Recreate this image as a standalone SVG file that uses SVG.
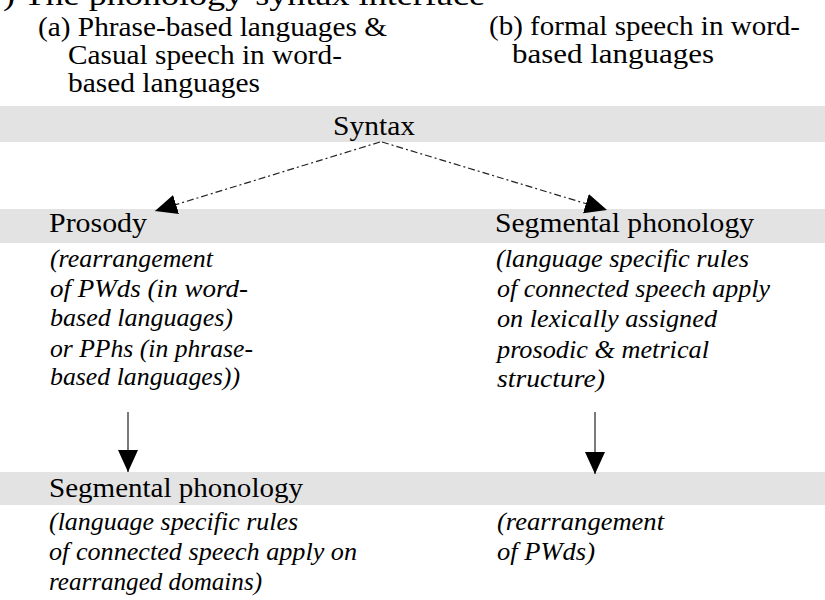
<svg xmlns="http://www.w3.org/2000/svg" width="825" height="600" viewBox="0 0 825 600">
<style>
  text { font-family: "Liberation Serif", "DejaVu Serif", serif; fill: #000; }
  .title { font-size: 29px; }
  .hdr { font-size: 27px; }
  .node { font-size: 27px; }
  .it { font-size: 26px; font-style: italic; }
  .band { fill: #e3e3e3; }
  .conn { fill: none; stroke: #222; stroke-width: 1.2; }
  .dash { stroke-dasharray: 7 3 2 3; }
</style>
<defs>
  <marker id="arrow" markerUnits="userSpaceOnUse" markerWidth="24" markerHeight="22" viewBox="0 0 24 22" refX="22" refY="11" orient="auto">
    <path d="M0,1 L22,11 L0,21 Z" fill="#000"/>
  </marker>
</defs>
<rect width="825" height="600" fill="#fff"/>

<g id="bands">
  <rect class="band" x="0" y="106" width="825" height="36"/>
  <rect class="band" x="0" y="209" width="825" height="34"/>
  <rect class="band" x="0" y="472" width="825" height="33"/>
</g>

<g id="title">
  <text class="title" x="3" y="5" textLength="482" lengthAdjust="spacingAndGlyphs">) The phonology-syntax interface</text>
</g>

<g id="header-a">
  <text class="hdr" x="38" y="36" textLength="349" lengthAdjust="spacingAndGlyphs">(a) Phrase-based languages &amp;</text>
  <text class="hdr" x="68" y="64" textLength="274" lengthAdjust="spacingAndGlyphs">Casual speech in word-</text>
  <text class="hdr" x="68" y="92" textLength="192" lengthAdjust="spacingAndGlyphs">based languages</text>
</g>

<g id="header-b">
  <text class="hdr" x="489" y="35" textLength="311" lengthAdjust="spacingAndGlyphs">(b) formal speech in word-</text>
  <text class="hdr" x="512" y="63" textLength="202" lengthAdjust="spacingAndGlyphs">based languages</text>
</g>

<g id="syntax">
  <text class="node" x="333" y="135" textLength="82" lengthAdjust="spacingAndGlyphs">Syntax</text>
</g>

<g id="prosody">
  <text class="node" x="49" y="232" textLength="98" lengthAdjust="spacingAndGlyphs">Prosody</text>
  <text class="it" x="50" y="267" textLength="163" lengthAdjust="spacingAndGlyphs">(rearrangement</text>
  <text class="it" x="50" y="297" textLength="198" lengthAdjust="spacingAndGlyphs">of PWds (in word-</text>
  <text class="it" x="50" y="326" textLength="183" lengthAdjust="spacingAndGlyphs">based languages)</text>
  <text class="it" x="50" y="357" textLength="203" lengthAdjust="spacingAndGlyphs">or PPhs (in phrase-</text>
  <text class="it" x="50" y="385" textLength="190" lengthAdjust="spacingAndGlyphs">based languages))</text>
</g>

<g id="segmental-b">
  <text class="node" x="495" y="232" textLength="259" lengthAdjust="spacingAndGlyphs">Segmental phonology</text>
  <text class="it" x="496" y="267" textLength="253" lengthAdjust="spacingAndGlyphs">(language specific rules</text>
  <text class="it" x="497" y="297" textLength="273" lengthAdjust="spacingAndGlyphs">of connected speech apply</text>
  <text class="it" x="497" y="327" textLength="220" lengthAdjust="spacingAndGlyphs">on lexically assigned</text>
  <text class="it" x="497" y="358" textLength="212" lengthAdjust="spacingAndGlyphs">prosodic &amp; metrical</text>
  <text class="it" x="497" y="387" textLength="108" lengthAdjust="spacingAndGlyphs">structure)</text>
</g>

<g id="segmental-a">
  <text class="node" x="49" y="497" textLength="254" lengthAdjust="spacingAndGlyphs">Segmental phonology</text>
  <text class="it" x="49" y="530" textLength="249" lengthAdjust="spacingAndGlyphs">(language specific rules</text>
  <text class="it" x="49" y="560" textLength="308" lengthAdjust="spacingAndGlyphs">of connected speech apply on</text>
  <text class="it" x="49" y="590" textLength="213" lengthAdjust="spacingAndGlyphs">rearranged domains)</text>
</g>

<g id="rearrangement-b">
  <text class="it" x="497" y="530" textLength="167" lengthAdjust="spacingAndGlyphs">(rearrangement</text>
  <text class="it" x="497" y="560" textLength="98" lengthAdjust="spacingAndGlyphs">of PWds)</text>
</g>

<g id="connectors">
  <path class="conn dash" d="M380,142 L155,211" marker-end="url(#arrow)"/>
  <path class="conn dash" d="M382,142 L607,210" marker-end="url(#arrow)"/>
  <path class="conn" d="M128,412 L128,472" marker-end="url(#arrow)"/>
  <path class="conn" d="M595,412 L595,474" marker-end="url(#arrow)"/>
</g>
</svg>
